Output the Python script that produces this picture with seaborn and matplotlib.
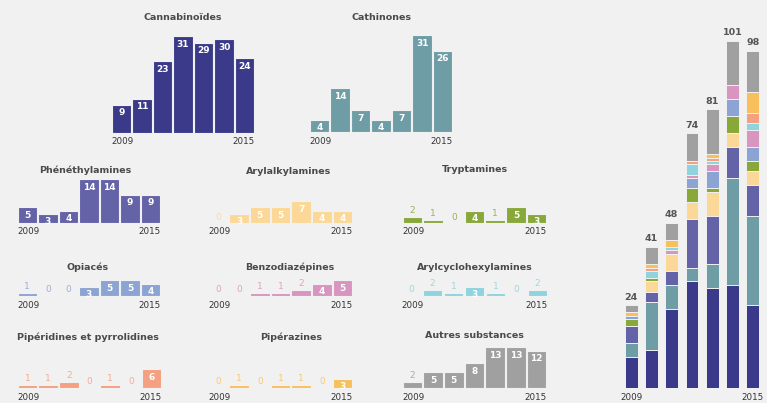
import matplotlib
matplotlib.use("Agg")
import matplotlib.pyplot as plt
from matplotlib.transforms import offset_copy
import pandas as pd
import seaborn as sns

# ---- data -------------------------------------------------------------
years = [2009, 2010, 2011, 2012, 2013, 2014, 2015]
year_labels = [str(y) for y in years]

categories = [
    "Cannabinoïdes", "Cathinones", "Phénéthylamines", "Arylalkylamines",
    "Tryptamines", "Opiacés", "Benzodiazépines", "Arylcyclohexylamines",
    "Pipéridines et pyrrolidines", "Pipérazines", "Autres substances",
]

cannabinoides = [9, 11, 23, 31, 29, 30, 24]
cathinones = [4, 14, 7, 4, 7, 31, 26]
phenethylamines = [5, 3, 4, 14, 14, 9, 9]
arylalkylamines = [0, 3, 5, 5, 7, 4, 4]
tryptamines = [2, 1, 0, 4, 1, 5, 3]
opiaces = [1, 0, 0, 3, 5, 5, 4]
benzodiazepines = [0, 0, 1, 1, 2, 4, 5]
arylcyclohexylamines = [0, 2, 1, 3, 1, 0, 2]
piperidines = [1, 1, 2, 0, 1, 0, 6]
piperazines = [0, 1, 0, 1, 1, 0, 3]
autres = [2, 5, 5, 8, 13, 13, 12]

series = [
    cannabinoides, cathinones, phenethylamines, arylalkylamines, tryptamines,
    opiaces, benzodiazepines, arylcyclohexylamines, piperidines, piperazines,
    autres,
]

colors = [
    "#3b3a8a", "#6e9da6", "#6563a8", "#fbd897", "#88a93a", "#8ca4d3",
    "#d895c0", "#8ed3de", "#f5a080", "#f8c05c", "#a0a0a0",
]

# stacking order (bottom to top) and fills used in the totals column
stack_order = [0, 1, 2, 3, 4, 5, 6, 7, 9, 8, 10]
stack_colors = {9: "#f5a080", 8: "#f8c05c"}

# ---- style ------------------------------------------------------------
BG = "#f1f1f1"
W, H = 767, 403
UNIT = 3.12          # pixels per substance in the small panels
UNIT_TOTAL = 3.44    # pixels per substance in the stacked panel

sns.set_theme(style="white")
plt.rcParams["font.family"] = ["DejaVu Sans"]

fig = plt.figure(figsize=(W / 100, H / 100), dpi=100)
fig.patch.set_facecolor(BG)

# panel geometry in pixels: left, right, baseline, height, title x, title y
panels = [
    (111, 255, 133, 100, 183, 18),
    (309, 453, 132, 100, 382, 17),
    (17, 161, 223, 50, 85, 170),
    (208, 353, 223, 50, 289, 171),
    (402, 547, 223, 50, 475, 170),
    (17, 161, 296, 30, 88, 267),
    (208, 353, 296, 30, 290, 267),
    (401, 548, 296, 30, 475, 267),
    (17, 162, 388, 45, 88, 337),
    (208, 353, 388, 45, 291, 337),
    (402, 547, 388, 45, 474, 336),
]


def px_axes(left, right, baseline, height):
    return fig.add_axes([left / W, 1 - baseline / H, (right - left) / W, height / H])


for name, values, color, (l, r, b, h, tx, ty) in zip(categories, series, colors, panels):
    ax = px_axes(l, r, b, h)
    df = pd.DataFrame({"année": year_labels, "n": values})
    sns.barplot(data=df, x="année", y="n", order=year_labels, color=color,
                saturation=1, width=0.95, edgecolor=BG, linewidth=0.8, ax=ax)
    ax.set_xlim(-0.5, 6.5)
    ax.set_ylim(0, h / UNIT)
    ax.set_axis_off()

    for i, v in enumerate(values):
        if v >= 3:
            tr = offset_copy(ax.transData, fig=fig, y=-8, units="dots")
            ax.text(i, v, str(v), transform=tr, ha="center", va="center",
                    color="white", fontsize=6.5, fontweight="bold")
        else:
            tr = offset_copy(ax.transData, fig=fig, y=6, units="dots")
            ax.text(i, v, str(v), transform=tr, ha="center", va="center",
                    color=color, fontsize=6.5, alpha=0.85)

    ytr = offset_copy(ax.get_xaxis_transform(), fig=fig, y=-9, units="dots")
    ax.text(-0.5, 0, year_labels[0], transform=ytr, ha="left", va="center",
            fontsize=6.3, color="#333333")
    ax.text(6.5, 0, year_labels[-1], transform=ytr, ha="right", va="center",
            fontsize=6.3, color="#333333")

    fig.text(tx / W, 1 - ty / H, name, ha="center", va="center",
             fontsize=6.8, fontweight="bold", color="#4a4a4a")

# ---- stacked totals ---------------------------------------------------
ax = px_axes(621, 763, 388, 365)
cumulative = []
running = [0] * len(years)
for k in stack_order:
    running = [a + b for a, b in zip(running, series[k])]
    cumulative.append((k, running))

# draw tallest cumulative bar first so each lower segment covers it
for k, cum in reversed(cumulative):
    df = pd.DataFrame({"année": year_labels, "cumul": cum})
    sns.barplot(data=df, x="année", y="cumul", order=year_labels,
                color=stack_colors.get(k, colors[k]),
                saturation=1, width=0.64, edgecolor=BG, linewidth=0.7, ax=ax)

totals = cumulative[-1][1]
ax.set_xlim(-0.5, 6.5)
ax.set_ylim(0, 365 / UNIT_TOTAL)
ax.set_axis_off()
for i, t in enumerate(totals):
    tr = offset_copy(ax.transData, fig=fig, y=8, units="dots")
    ax.text(i, t, str(t), transform=tr, ha="center", va="center",
            fontsize=6.8, fontweight="bold", color="#555555")

ytr = offset_copy(ax.get_xaxis_transform(), fig=fig, y=-10, units="dots")
ax.text(0, 0, year_labels[0], transform=ytr, ha="center", va="center",
        fontsize=6.3, color="#333333")
ax.text(6, 0, year_labels[-1], transform=ytr, ha="center", va="center",
        fontsize=6.3, color="#333333")

fig.savefig("out.png", dpi=100, facecolor=BG)
